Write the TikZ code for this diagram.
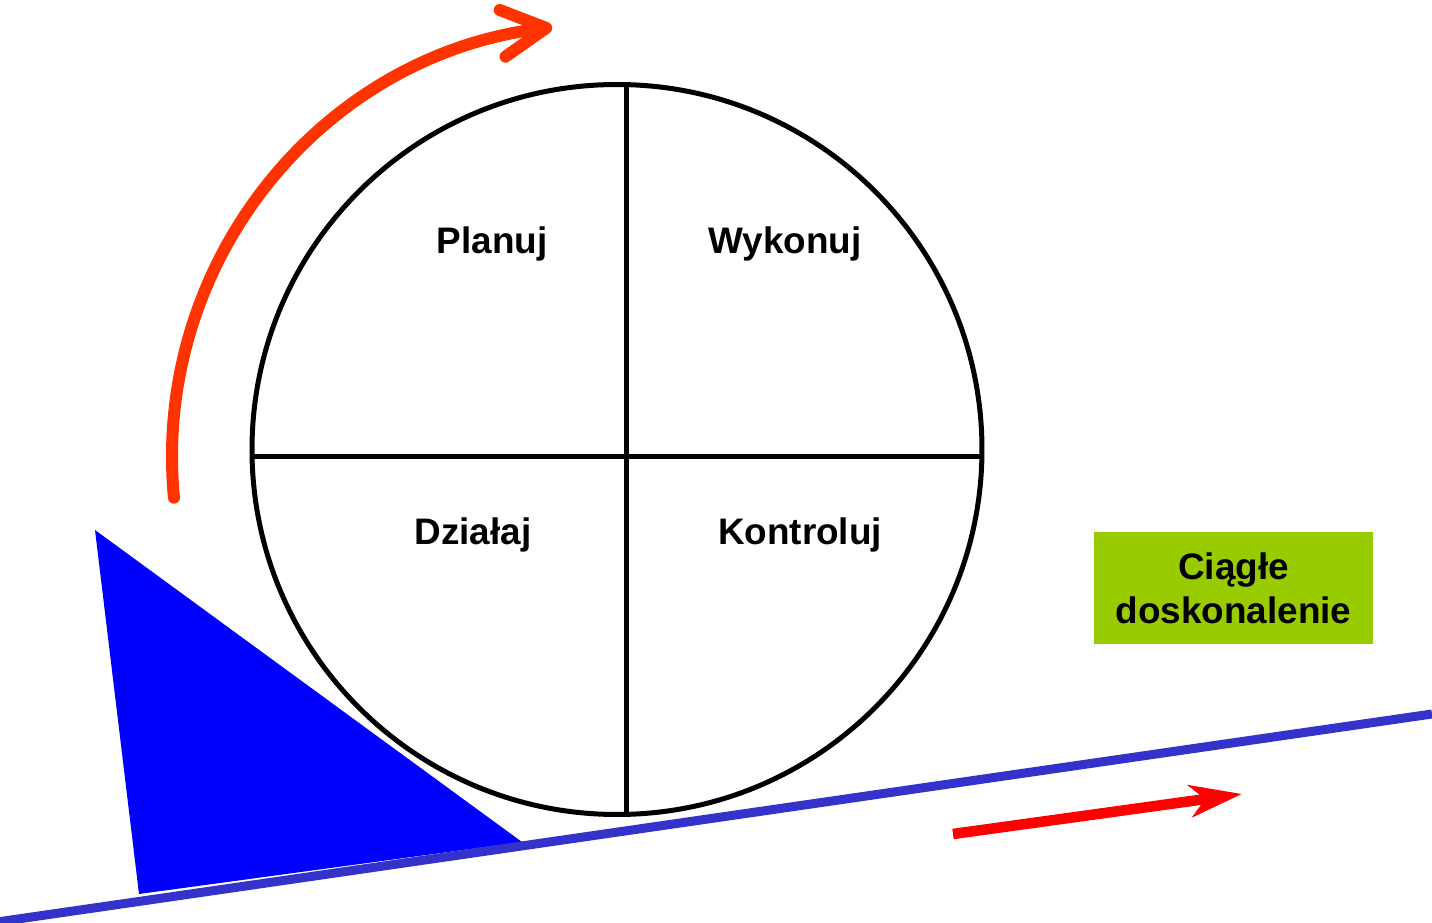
\documentclass[tikz,border=0pt]{standalone}
\usepackage{fontspec}
\setmainfont{Liberation Sans}
\usepackage{tikz}
\usetikzlibrary{arrows.meta, positioning}
\usepackage{xcolor}
\definecolor{turncolor}{RGB}{255,51,0}
\definecolor{pushcolor}{RGB}{255,0,0}
\definecolor{wedgecolor}{RGB}{0,0,255}
\definecolor{groundcolor}{RGB}{51,51,204}
\definecolor{kaizencolor}{RGB}{153,204,0}

\begin{document}
\begin{tikzpicture}[
    x=0.1mm, y=-0.1mm,
    phase/.style={font=\bfseries\fontsize{10.5}{12.5}\selectfont, anchor=base, inner sep=0pt},
    wheel/.style={draw, line width=0.5mm},
    kaizen/.style={rectangle, fill=kaizencolor, minimum width=27.9mm, minimum height=11.2mm, align=center, font=\bfseries\fontsize{10.5}{12.5}\selectfont},
    turn/.style={draw=turncolor, line width=1.2mm, line cap=round, -{Straight Barb[length=4.4mm, width=4.7mm, round]}},
    push/.style={draw=pushcolor, line width=1.05mm, -{Stealth[length=5.2mm, width=3.2mm, inset=1.5mm]}},
    ground/.style={draw=groundcolor, line width=0.9mm}
]
\useasboundingbox (0,0) rectangle (1432,923);

% wedge and slope
\fill[wedgecolor] (95,530) -- (139,894) -- (522,842) -- cycle;
\coordinate (slopeL) at (0,921.6);
\coordinate (slopeR) at (1432,714);
\draw[ground] (slopeL) -- (slopeR);

% PDCA wheel
\coordinate (hub) at (617,449.5);
\draw[wheel] (hub) circle[radius=36.5mm];
\coordinate (top) at (626,84);
\coordinate (bottom) at (626,815);
\coordinate (left) at (252.5,457);
\coordinate (right) at (981.5,457);
\draw[wheel] (top) -- (bottom);
\draw[wheel] (left) -- (right);

\node[phase] (plan) at (492,254) {Planuj};
\node[phase] (do) at (785,254) {Wykonuj};
\node[phase] (act) at (473,545) {Działaj};
\node[phase] (check) at (800,545) {Kontroluj};

% rotation arrow
\coordinate (turnc) at (605,457);
\draw[turn] (turnc) ++(185.4:43.3mm) arc[start angle=185.4, end angle=97, radius=43.3mm];

% forward arrow
\coordinate (pushA) at (953,834);
\coordinate (pushB) at (1242,794);
\draw[push] (pushA) -- (pushB);

\node[kaizen] (improve) at (1233.5,588) {Ciągłe\\doskonalenie};
\end{tikzpicture}
\end{document}
